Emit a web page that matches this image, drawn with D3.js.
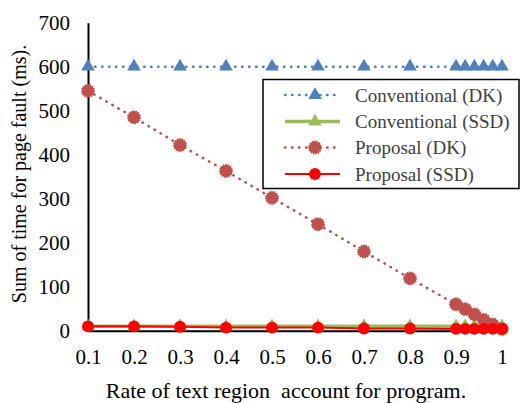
<!DOCTYPE html>
<html><head><meta charset="utf-8">
<script src="https://cdn.jsdelivr.net/npm/d3@7/dist/d3.min.js"></script>
<style>body{margin:0;background:#fff}svg{display:block}text{font-family:"Liberation Serif","Times New Roman",serif}</style>
</head><body>
<script>
const xValues = [0.1,0.2,0.3,0.4,0.5,0.6,0.7,0.8,0.9,0.92,0.94,0.96,0.98,1.0];
const convDK  = [600,600,600,600,600,600,600,600,600,600,600,600,600,600];
const convSSD = [10,10,10,10,10,10,10,10,10,10,10,10,10,10];
const propDK  = [545,485,422,363,302,242,180,119,60,49,37,25,14,4];
const propSSD = [10,10,9,7,7,7,5,5,4,4,4,4,4,4];
const xTicks = [0.1,0.2,0.3,0.4,0.5,0.6,0.7,0.8,0.9,1];
const yTicks = [0,100,200,300,400,500,600,700];
const seriesNames = ["Conventional (DK)","Conventional (SSD)","Proposal (DK)","Proposal (SSD)"];

const W=520,H=403;
const svg=d3.select("body").append("svg").attr("width",W).attr("height",H);
const x=d3.scaleLinear().domain([0.1,1]).range([88,502]);
const y=d3.scaleLinear().domain([0,700]).range([330.7,22.7]);

const series=[
 {name:seriesNames[0],vals:convDK,color:"#4F81BD",dotted:true,marker:"tri",w:2.5},
 {name:seriesNames[1],vals:convSSD,color:"#9BBB59",dotted:false,marker:"tri",w:3.5},
 {name:seriesNames[2],vals:propDK,color:"#C0504D",dotted:true,marker:"star",w:2.5},
 {name:seriesNames[3],vals:propSSD,color:"#FF0000",dotted:false,marker:"circle",w:2}
];

// axes
const yAxis=d3.axisLeft(y).tickValues(yTicks).tickSize(0).tickPadding(18).tickFormat(d3.format("d"));
const gy=svg.append("g").attr("transform","translate(88,0)").call(yAxis);
gy.select(".domain").attr("stroke","#000").attr("stroke-width",2);
gy.selectAll("text").attr("font-size",21).attr("fill","#000").attr("font-family","Liberation Serif");
const xAxis=d3.axisBottom(x).tickValues(xTicks).tickSize(0).tickPadding(18).tickFormat(d=>d===1?"1":d3.format(".1f")(d));
const gx=svg.append("g").attr("transform","translate(0,330.7)").call(xAxis);
gx.select(".domain").attr("stroke","#000").attr("stroke-width",2);
gx.selectAll("text").attr("font-size",21).attr("fill","#000").attr("font-family","Liberation Serif");

function markerPath(type,size){
  if(type==="tri") return d3.symbol(d3.symbolTriangle,size)();
  return d3.symbol(d3.symbolCircle,size)();
}
const line=d3.line().x(d=>x(d[0])).y(d=>y(d[1]));
series.forEach(s=>{
  const pts=xValues.map((v,i)=>[v,s.vals[i]]);
  svg.append("path").attr("d",line(pts)).attr("fill","none").attr("stroke",s.color)
   .attr("stroke-width",s.w).attr("stroke-linecap",s.dotted?"round":"butt")
   .attr("stroke-dasharray",s.dotted?"0.5 6.5":null);
});
series.forEach(s=>{
  const pts=xValues.map((v,i)=>[v,s.vals[i]]);
  const sz=s.marker==="tri"?80:(s.marker==="star"?120:110);
  svg.append("g").selectAll("path").data(pts).join("path")
   .attr("transform",d=>`translate(${x(d[0])},${y(d[1])})`)
   .attr("d",markerPath(s.marker,sz)).attr("fill",s.color)
   .attr("stroke",s.marker==="star"?s.color:"none").attr("stroke-width",s.marker==="star"?1.5:0)
   .attr("stroke-dasharray",s.marker==="star"?"1.5 1":null);
});

// legend
const lg=svg.append("g");
lg.append("rect").attr("x",263).attr("y",79.5).attr("width",256).attr("height",109).attr("fill","#fff").attr("stroke","#000").attr("stroke-width",1.5);
const rowY=[95,121.5,147.5,174];
series.forEach((s,i)=>{
  const yy=rowY[i];
  lg.append("line").attr("x1",285).attr("x2",340).attr("y1",yy).attr("y2",yy).attr("stroke",s.color)
   .attr("stroke-width",s.w).attr("stroke-linecap",s.dotted?"round":"butt").attr("stroke-dasharray",s.dotted?"0.5 6.5":null);
  const sz=s.marker==="tri"?80:(s.marker==="star"?120:110);
  lg.append("path").attr("transform",`translate(315,${yy})`).attr("d",markerPath(s.marker,sz)).attr("fill",s.color)
   .attr("stroke",s.marker==="star"?s.color:"none").attr("stroke-width",s.marker==="star"?1.5:0).attr("stroke-dasharray",s.marker==="star"?"1.5 1":null);
  lg.append("text").attr("x",355).attr("y",yy).attr("dy","0.35em").attr("font-size",19).attr("fill","#404040").text(s.name);
});

// axis titles
svg.append("text").attr("x",286).attr("y",398).attr("text-anchor","middle").attr("font-size",22).attr("fill","#000")
  .style("white-space","pre").text("Rate of text region  account for program.");
svg.append("text").attr("transform","translate(26,174) rotate(-90)").attr("text-anchor","middle").attr("font-size",20).attr("fill","#000")
  .text("Sum of time for page fault (ms).");
</script>
</body></html>
